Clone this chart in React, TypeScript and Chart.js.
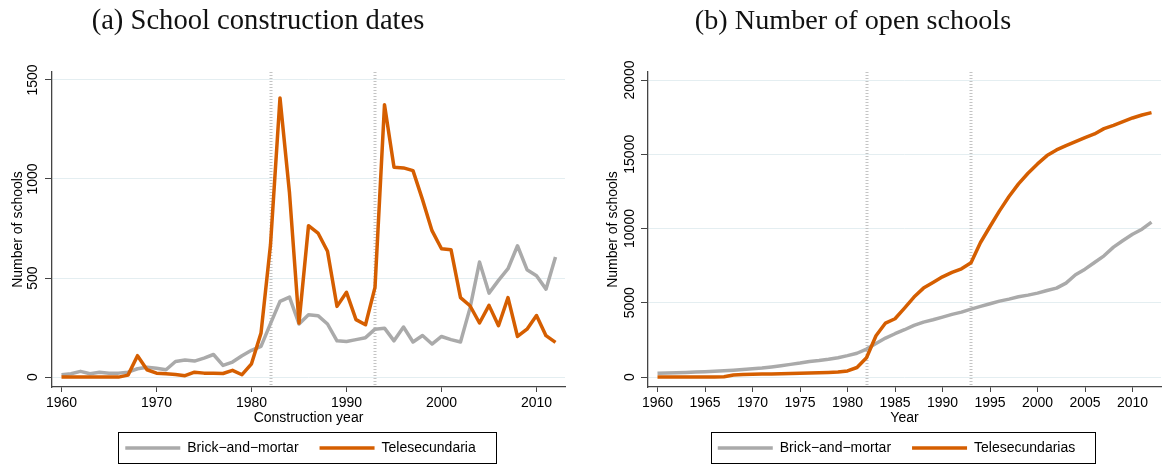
import React, { useEffect, useRef } from "react";
import { Chart, registerables } from "chart.js";

Chart.register(...registerables);

// ---------- data ----------
const years = [
  1960, 1961, 1962, 1963, 1964, 1965, 1966, 1967, 1968, 1969,
  1970, 1971, 1972, 1973, 1974, 1975, 1976, 1977, 1978, 1979,
  1980, 1981, 1982, 1983, 1984, 1985, 1986, 1987, 1988, 1989,
  1990, 1991, 1992, 1993, 1994, 1995, 1996, 1997, 1998, 1999,
  2000, 2001, 2002, 2003, 2004, 2005, 2006, 2007, 2008, 2009,
  2010, 2011, 2012,
];

// (a) construction dates
const brickBuilt = [
  12, 17, 29, 17, 24, 20, 20, 25, 42, 50,
  45, 37, 79, 86, 81, 96, 114, 59, 76, 108,
  135, 155, 270, 382, 404, 268, 315, 310, 268, 183,
  180, 189, 199, 242, 247, 183, 253, 177, 210, 167,
  205, 189, 177, 348, 581, 424, 488, 547, 663, 542,
  512, 444, 606,
];
const teleBuilt = [
  0, 0, 0, 0, 0, 0, 0, 10, 108, 37,
  20, 17, 13, 7, 25, 20, 20, 18, 34, 12,
  67, 222, 668, 1409, 929, 273, 764, 727, 635, 357,
  428, 290, 264, 453, 1375, 1059, 1056, 1042, 896, 739,
  648, 643, 401, 360, 273, 362, 259, 401, 205, 242,
  311, 209, 175,
];

// (b) open schools
const brickOpen = [
  247, 270, 290, 310, 335, 360, 390, 420, 460, 510,
  560, 600, 680, 760, 850, 940, 1050, 1110, 1190, 1300,
  1440, 1600, 1880, 2250, 2623, 2915, 3184, 3475, 3699, 3856,
  4036, 4215, 4372, 4574, 4753, 4932, 5112, 5246, 5403, 5515,
  5650, 5829, 5986, 6322, 6883, 7264, 7712, 8161, 8744, 9192,
  9618, 9954, 10425,
];
const teleOpen = [
  0, 0, 0, 0, 0, 0, 5, 15, 140, 165,
  185, 195, 205, 215, 235, 255, 270, 290, 310, 330,
  410, 640, 1300, 2780, 3632, 3924, 4641, 5381, 5986, 6367,
  6748, 7040, 7287, 7690, 9058, 10134, 11188, 12152, 13004, 13721,
  14349, 14910, 15290, 15582, 15851, 16120, 16367, 16725, 16949, 17196,
  17443, 17645, 17802,
];

const cutoffYears = [1982, 1993];
const xTicksA = [1960, 1970, 1980, 1990, 2000, 2010];
const xTicksB = [1960, 1965, 1970, 1975, 1980, 1985, 1990, 1995, 2000, 2005, 2010];
const yTicksA = [0, 500, 1000, 1500];
const yTicksB = [0, 5000, 10000, 15000, 20000];

// ---------- style ----------
const GRAY = "#aaaaaa";
const ORANGE = "#d55e00";
const AXIS = "#444444";
const GRID = "#e4eef1";
const SANS = '"Liberation Sans", Arial, Helvetica, sans-serif';

Chart.defaults.font.family = SANS;
Chart.defaults.color = "#000";

const cutoffPlugin = {
  id: "cutoffs",
  beforeDatasetsDraw(chart: any) {
    const { ctx, chartArea } = chart;
    const xs = chart.scales.x;
    ctx.save();
    ctx.strokeStyle = "#c4c4c4";
    ctx.lineWidth = 3;
    ctx.setLineDash([1, 2]);
    cutoffYears.forEach((yr) => {
      const px = Math.round(xs.getPixelForValue(yr));
      ctx.beginPath();
      ctx.moveTo(px, chartArea.top);
      ctx.lineTo(px, chartArea.bottom - 2);
      ctx.stroke();
    });
    ctx.restore();
  },
};

const yLabelPlugin = {
  id: "ylabels",
  afterDraw(chart: any, _args: any, opts: any) {
    const { ctx, chartArea } = chart;
    const ys = chart.scales.y;
    ctx.save();
    ctx.font = `14px ${SANS}`;
    ctx.fillStyle = "#000";
    ctx.textAlign = "center";
    ctx.textBaseline = "middle";
    (opts.ticks || []).forEach((v: number) => {
      ctx.save();
      ctx.translate(chartArea.left - (opts.offset || 19), ys.getPixelForValue(v));
      ctx.rotate(-Math.PI / 2);
      ctx.fillText(String(v), 0, 0);
      ctx.restore();
    });
    ctx.restore();
  },
};

const legendFramePlugin = {
  id: "legendFrame",
  afterLayout(chart: any, _args: any, opts: any) {
    const lg = chart.legend;
    if (!lg) return;
    const sh = opts.shift || 0;
    lg.left -= sh;
    lg.right -= sh;
  },
  afterDraw(chart: any) {
    const lg = chart.legend;
    if (!lg || !lg.lineWidths) return;
    const pad = 21;
    const lw = lg.lineWidths[0];
    const start = (lg.left + pad + lg.right - lw) / 2;
    const left = Math.round(start - 7) + 0.5;
    const right = Math.round(start + lw - pad + 20) + 0.5;
    const cy = lg.top + pad + 7;
    const top = Math.round(cy - 16) + 0.5;
    const bottom = Math.round(cy + 15) + 0.5;
    const { ctx } = chart;
    ctx.save();
    ctx.strokeStyle = "#000";
    ctx.lineWidth = 1;
    ctx.strokeRect(left, top, right - left, bottom - top);
    ctx.restore();
  },
};

function makeConfig(p: {
  brick: number[];
  tele: number[];
  teleLabel: string;
  xTicks: number[];
  yTicks: number[];
  yMin: number;
  yMax: number;
  xTitle: string;
  yAxisWidth: number;
  yTitlePad: number;
  padRight: number;
  yLabelOffset: number;
}) {
  const toPts = (vals: number[]) => years.map((yr, i) => ({ x: yr, y: vals[i] }));
  return {
    type: "line",
    data: {
      datasets: [
        {
          label: "Brick\u2212and\u2212mortar",
          data: toPts(p.brick),
          borderColor: GRAY,
          backgroundColor: GRAY,
          borderWidth: 3.5,
          pointRadius: 0,
          borderJoinStyle: "round",
          tension: 0,
          order: 1,
        },
        {
          label: p.teleLabel,
          data: toPts(p.tele),
          borderColor: ORANGE,
          backgroundColor: ORANGE,
          borderWidth: 3.5,
          pointRadius: 0,
          borderJoinStyle: "round",
          tension: 0,
          order: 0,
        },
      ],
    },
    options: {
      responsive: false,
      animation: false,
      events: [],
      layout: { padding: { left: 0, right: p.padRight, top: 72, bottom: 1 } },
      scales: {
        x: {
          type: "linear",
          min: 1959,
          max: 2013,
          afterBuildTicks: (s: any) => {
            s.ticks = p.xTicks.map((v) => ({ value: v }));
          },
          afterFit: (s: any) => {
            s.height = 33;
          },
          grid: {
            drawOnChartArea: false,
            drawTicks: true,
            tickLength: 5,
            tickColor: AXIS,
            tickWidth: 1,
          },
          border: { color: AXIS, width: 1.3 },
          ticks: {
            padding: 3,
            autoSkip: false,
            maxRotation: 0,
            font: { size: 14 },
            color: "#000",
            callback: (v: any) => String(v),
          },
          title: {
            display: true,
            text: p.xTitle,
            font: { size: 14 },
            color: "#000",
            padding: { top: 0, bottom: -6.4 },
          },
        },
        y: {
          type: "linear",
          min: p.yMin,
          max: p.yMax,
          afterBuildTicks: (s: any) => {
            s.ticks = p.yTicks.map((v) => ({ value: v }));
          },
          afterFit: (s: any) => {
            s.width = p.yAxisWidth;
          },
          grid: {
            color: GRID,
            lineWidth: 1,
            drawTicks: true,
            tickLength: 7,
            tickColor: AXIS,
            tickWidth: 1,
          },
          border: { color: AXIS, width: 1.3 },
          ticks: { display: false },
          title: {
            display: true,
            text: "Number of schools",
            font: { size: 14 },
            color: "#000",
            padding: { top: p.yTitlePad, bottom: 0 },
          },
        },
      },
      plugins: {
        title: { display: false },
        tooltip: { enabled: false },
        legend: {
          position: "bottom",
          fullSize: false,
          labels: {
            usePointStyle: true,
            pointStyle: "line",
            pointStyleWidth: 55,
            padding: 21,
            font: { size: 14 },
            color: "#000",
            sort: (a: any, b: any) => a.datasetIndex - b.datasetIndex,
          },
        },
        ylabels: { ticks: p.yTicks, offset: p.yLabelOffset },
        legendFrame: { shift: 8 },
      },
    },
    plugins: [cutoffPlugin, yLabelPlugin, legendFramePlugin],
  } as any;
}

function Panel(props: { config: any; left: number }) {
  const ref = useRef<HTMLCanvasElement | null>(null);
  useEffect(() => {
    if (!ref.current) return;
    const chart = new Chart(ref.current, props.config);
    return () => chart.destroy();
  }, []);
  return (
    <canvas
      ref={ref}
      width={581}
      height={466}
      style={{ position: "absolute", left: props.left, top: 0, width: 581, height: 466 }}
    />
  );
}

const titleStyle = (center: number, size: number): React.CSSProperties => ({
  position: "absolute",
  left: center - 250,
  width: 500,
  top: 4,
  textAlign: "center",
  fontFamily: '"Liberation Serif", "Times New Roman", serif',
  fontSize: size,
  lineHeight: "32px",
  color: "#111",
  whiteSpace: "nowrap",
});

export default function App() {
  const cfgA = makeConfig({
    brick: brickBuilt,
    tele: teleBuilt,
    teleLabel: "Telesecundaria",
    xTicks: xTicksA,
    yTicks: yTicksA,
    yMin: -50,
    yMax: 1540,
    xTitle: "Construction year",
    yAxisWidth: 52,
    yTitlePad: 9.6,
    padRight: 16,
    yLabelOffset: 19,
  });
  const cfgB = makeConfig({
    brick: brickOpen,
    tele: teleOpen,
    teleLabel: "Telesecundarias",
    xTicks: xTicksB,
    yTicks: yTicksB,
    yMin: -673,
    yMax: 20539,
    xTitle: "Year",
    yAxisWidth: 67,
    yTitlePad: 23.6,
    padRight: 1,
    yLabelOffset: 18,
  });
  return (
    <div
      style={{
        position: "absolute",
        left: 0,
        top: 0,
        width: 1162,
        height: 466,
        background: "#fff",
        overflow: "hidden",
      }}
    >
      <Panel config={cfgA} left={0} />
      <Panel config={cfgB} left={581} />
      <div style={titleStyle(258, 28.6)}>(a) School construction dates</div>
      <div style={titleStyle(853, 28.2)}>(b) Number of open schools</div>
    </div>
  );
}
